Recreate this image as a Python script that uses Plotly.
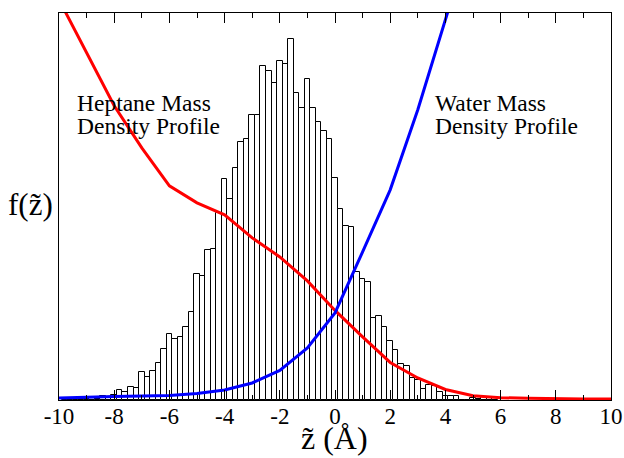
import plotly.graph_objects as go

# Histogram (bin centers in Å, heights in arbitrary units)
bin_heights = [
    0, 0.5, 2.5, 1, 1, 2.5, 1.5, 4.3, 3, 5.5,            # -9.8 .. -8.0
    10, 7.7, 13, 12, 27.5, 22.7, 28.5, 37, 50.7, 65.7,    # -7.8 .. -6.0
    60.7, 63.2, 72.7, 87.7, 126, 123.7, 150, 151, 186.5, 220.7,  # -5.8 .. -4.0
    200.5, 231.7, 257.8, 260.7, 284.3, 284.3, 334, 328.3, 316.7, 338.3,  # -3.8 .. -2.0
    335.8, 360.7, 306.7, 292, 321, 292, 277.5, 268.3, 261.3, 222.3,  # -1.8 .. 0.0
    191, 174.3, 173.3, 127.7, 121.3, 118, 81.5, 83.5, 73.3, 59.2,  # 0.2 .. 2.0
    49.7, 36, 33.5, 21.5, 20, 11, 14.7, 14.2, 8.2, 4.2,   # 2.2 .. 4.0
    4.2, 4, 0.5, 0.5, 2, 1.5, 3.3, 2, 0,                  # 4.2 .. 5.8
]
bin_centers = [round(-9.8 + 0.2 * i, 1) for i in range(len(bin_heights))]
bin_width = 0.2

# Heptane mass density profile
heptane_z = [-10, -9, -8, -7, -6, -5, -4, -3, -2, -1, 0, 1, 2, 3, 4, 5, 6, 7, 8, 9, 10]
heptane_f = [400, 347, 294, 252, 214, 197, 185, 162, 143, 119, 89.5, 63, 37.5, 22, 10.5, 4.3, 2.3, 1.7, 1.2, 1.0, 1.0]

# Water mass density profile
water_z = [-10, -9, -8, -7, -6, -5, -4, -3, -2, -1, 0, 1, 2, 3, 4, 5]
water_f = [2, 3, 3.5, 4, 4.5, 6.5, 10, 17, 29.5, 52, 87, 148, 210, 290, 380, 470]

tick_vals = [-10, -8, -6, -4, -2, 0, 2, 4, 6, 8, 10]
tick_text = ["-10", "-8", "-6", "-4", "-2", "0", "2", "4", "6", "8", "10"]

Y_MAX = 386.7
FONT = "Liberation Serif"

fig = go.Figure()
fig.add_trace(go.Bar(
    x=bin_centers, y=bin_heights, width=bin_width,
    marker=dict(color="white", line=dict(color="black", width=1)),
    showlegend=False,
))
fig.add_trace(go.Scatter(
    x=heptane_z, y=heptane_f, mode="lines",
    line=dict(color="#ff0000", width=3), showlegend=False,
))
fig.add_trace(go.Scatter(
    x=water_z, y=water_f, mode="lines",
    line=dict(color="#0000ff", width=3), showlegend=False,
))

fig.update_layout(
    width=624, height=458,
    margin=dict(l=59, r=13, t=13, b=58),
    paper_bgcolor="white", plot_bgcolor="white",
    font=dict(family=FONT, color="black", size=20),
    bargap=0,
    xaxis=dict(
        range=[-10, 10], tickvals=tick_vals, ticktext=tick_text,
        ticks="inside", ticklen=10, tickwidth=1, tickcolor="black",
        minor=dict(dtick=1, ticks="inside", ticklen=5, tickwidth=1, tickcolor="black"),
        showline=True, linecolor="black", linewidth=1, mirror="ticks",
        showgrid=False, zeroline=False, automargin=False,
        ticklabelstandoff=-5,
        tickfont=dict(family=FONT, size=23, color="black"),
    ),
    yaxis=dict(
        range=[0, Y_MAX], showticklabels=False, ticks="",
        showline=True, linecolor="black", linewidth=1, mirror=True,
        showgrid=False, zeroline=False, automargin=False,
    ),
)

def px_to_paper(x, y):
    return (x - 59.3) / 551.7, (400 - y) / Y_MAX

annots = [
    ("Heptane Mass", 75, 103.0, 23.5),
    ("Density Profile", 75, 126.0, 23.5),
    ("Water Mass", 433, 103.0, 23.5),
    ("Density Profile", 433, 126.0, 23.5),
]
for text, x, y, s in annots:
    px, py = px_to_paper(x, y)
    fig.add_annotation(text=text, x=px, y=py, xref="paper", yref="paper",
                       xanchor="left", yanchor="middle", showarrow=False,
                       font=dict(family=FONT, size=s, color="black"))

px, py = px_to_paper(31, 205)
fig.add_annotation(text="f(z\u0303)", x=px, y=py, xref="paper", yref="paper",
                   xanchor="center", yanchor="middle", showarrow=False,
                   font=dict(family=FONT, size=31, color="black"))
px, py = px_to_paper(335, 438)
fig.add_annotation(text="z\u0303 (\u00c5)", x=px, y=py, xref="paper", yref="paper",
                   xanchor="center", yanchor="middle", showarrow=False,
                   font=dict(family=FONT, size=32, color="black"))

fig.write_html("out.html", config={"displayModeBar": False},
               post_script="document.body.style.margin='0px';document.body.style.overflow='hidden';")
